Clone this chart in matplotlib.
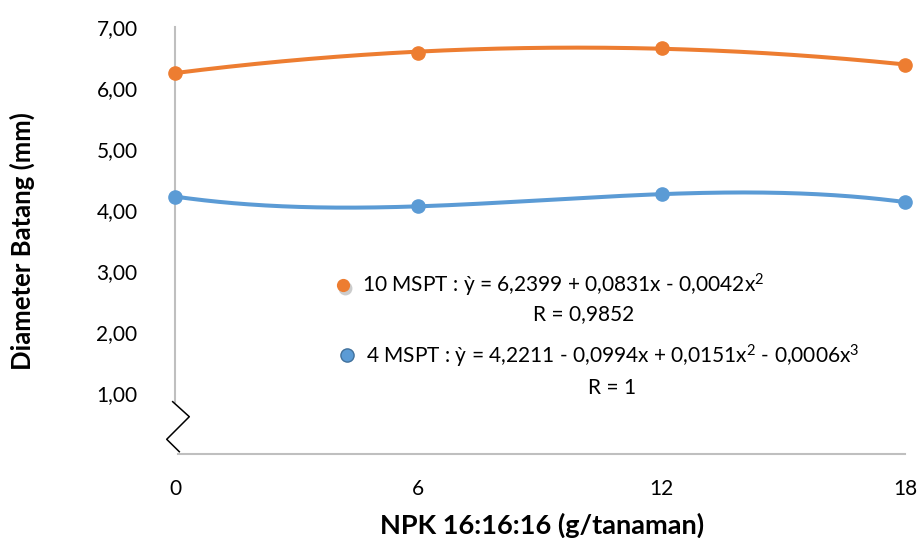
import numpy as np
import matplotlib
matplotlib.use("Agg")
import matplotlib.pyplot as plt
from matplotlib.lines import Line2D

plt.rcParams['font.family'] = ['Lato', 'DejaVu Sans']
plt.rcParams['mathtext.fontset'] = 'custom'
plt.rcParams['mathtext.rm'] = 'Lato'
plt.rcParams['mathtext.it'] = 'Lato'
plt.rcParams['mathtext.default'] = 'rm'

# ---- data ----
npk = [0, 6, 12, 18]
x_labels = ["0", "6", "12", "18"]
mspt10 = [6.25, 6.58, 6.66, 6.38]
mspt4 = [4.22, 4.06, 4.26, 4.13]
y_ticks = [1, 2, 3, 4, 5, 6, 7]
y_tick_labels = ["1,00", "2,00", "3,00", "4,00", "5,00", "6,00", "7,00"]
label10 = "10 MSPT : ỳ = 6,2399 + 0,0831x - 0,0042x$^{2}$"
r10 = "R = 0,9852"
label4 = "4 MSPT : ỳ = 4,2211 - 0,0994x + 0,0151x$^{2}$ - 0,0006x$^{3}$"
r4 = "R = 1"

ORANGE = "#ED7D31"
BLUE = "#5B9BD5"
GRAY = "#BFBFBF"

W, H = 919, 538
fig = plt.figure(figsize=(W / 100, H / 100), dpi=100)
ax = fig.add_axes([175 / W, 1 - 454 / H, (905 - 175) / W, (454 - 27) / H])

# polynomial trend lines (quadratic for 10 MSPT, cubic for 4 MSPT)
xs = np.linspace(min(npk), max(npk), 300)
for ys, col, deg in [(mspt10, ORANGE, 2), (mspt4, BLUE, 3)]:
    coef = np.polyfit(npk, ys, deg)
    ax.plot(xs, np.polyval(coef, xs), color=col, lw=2.9, solid_capstyle='round',
            clip_on=False, zorder=3)
    ax.plot(npk, ys, 'o', color=col, ms=9.5, clip_on=False, zorder=4)

ax.set_xlim(0, 18)
ax.set_ylim(0, 7)
ax.set_xticks(npk)
ax.set_xticklabels(x_labels)
ax.set_yticks(y_ticks)
ax.set_yticklabels(y_tick_labels)
ax.tick_params(axis='both', length=0, labelsize=15, colors='black')
ax.tick_params(axis='y', pad=27)
ax.tick_params(axis='x', pad=18)

for s in ['top', 'right']:
    ax.spines[s].set_visible(False)
ax.spines['left'].set_color(GRAY)
ax.spines['bottom'].set_color(GRAY)
ax.spines['left'].set_linewidth(1.5)
ax.spines['bottom'].set_linewidth(1.5)
ax.spines['left'].set_bounds(0.85, 7)
ax.spines['bottom'].set_bounds(0.07, 18)


def fpos(px, py):
    return px / W, 1 - py / H


fig.text(*fpos(22, 241), "Diameter Batang (mm)", fontsize=18.5, fontweight='bold',
         rotation=90, ha='center', va='center')
fig.text(*fpos(542, 525), "NPK 16:16:16 (g/tanaman)", fontsize=19.5, fontweight='bold',
         ha='center', va='center')

# axis break symbol
bx = [172.7, 189.3, 166.7, 179.3]
by = [401.7, 416.7, 439.3, 451.7]
fig.add_artist(Line2D([v / W for v in bx], [1 - v / H for v in by], color='black', lw=1.1,
                      transform=fig.transFigure))

# legend-like annotations
fx, fy = fpos(345, 288)
fig.add_artist(Line2D([fx], [fy], marker='o', ms=10, color='#9a9a9a', alpha=0.5,
                      markeredgewidth=0, transform=fig.transFigure))
fx, fy = fpos(343, 285)
fig.add_artist(Line2D([fx], [fy], marker='o', ms=9.5, color=ORANGE, markeredgewidth=0,
                      transform=fig.transFigure))
fx, fy = fpos(347, 355)
fig.add_artist(Line2D([fx], [fy], marker='o', ms=9.5, color=BLUE, markeredgecolor='#41719C',
                      markeredgewidth=1, transform=fig.transFigure))

fig.text(*fpos(362, 285), label10, fontsize=15, va='center', ha='left')
fig.text(*fpos(584, 314), r10, fontsize=15, va='center', ha='center')
fig.text(*fpos(366, 356), label4, fontsize=15, va='center', ha='left')
fig.text(*fpos(612, 388), r4, fontsize=15, va='center', ha='center')

fig.savefig("out.png", dpi=100)
